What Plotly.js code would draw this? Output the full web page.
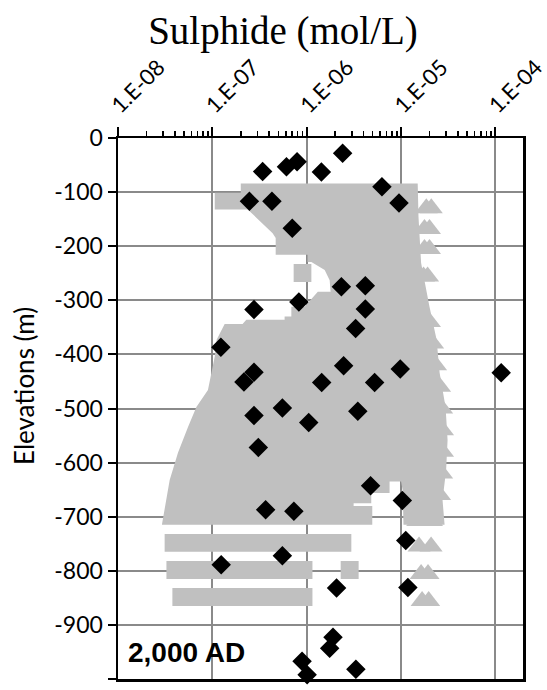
<!DOCTYPE html>
<html>
<head>
<meta charset="utf-8">
<script src="https://cdn.plot.ly/plotly-3.0.1.min.js"></script>
<style>html,body{margin:0;padding:0;background:#fff;}#chart{width:547px;height:690px;}</style>
</head>
<body>
<div id="chart"></div>
<script>
// ---------- data ----------
// measured sulphide (black diamonds)
const measConc = [2.40e-6, 7.9e-7, 6.1e-7, 3.41e-7, 1.43e-6, 6.27e-6, 9.5e-6, 2.47e-7, 4.28e-7, 7.03e-7,
  2.33e-6, 4.18e-6, 4.18e-6, 3.30e-6, 8.26e-7, 2.76e-7, 1.23e-7, 2.76e-7, 2.16e-7, 2.46e-6,
  1.44e-6, 5.24e-6, 9.8e-6, 1.15e-4, 3.48e-6, 1.05e-6, 2.76e-7, 5.52e-7, 3.07e-7, 4.75e-6,
  1.03e-5, 3.67e-7, 7.31e-7, 1.12e-5, 5.52e-7, 1.24e-7, 2.07e-6, 1.18e-5, 1.90e-6, 1.75e-6,
  8.93e-7, 1.01e-6, 3.32e-6];
const measElev = [-28, -44, -53, -62, -63, -90, -120, -117, -117, -167,
  -275, -273, -316, -352, -303, -317, -387, -433, -451, -421,
  -452, -452, -427, -434, -505, -526, -513, -499, -572, -643,
  -670, -687, -690, -744, -772, -789, -832, -831, -923, -943,
  -967, -992, -982];

// model envelope (grey area outline)
const bodyConc = [2.00e-7, 1.50e-5, 1.53e-5, 1.63e-5, 2.00e-5, 2.38e-5, 2.56e-5, 2.96e-5, 3.11e-5, 3.00e-5,
  2.75e-5, 2.89e-5, 1.06e-5, 1.04e-5, 1.00e-5, 7.55e-6, 7.55e-6, 4.83e-6, 4.83e-6, 3.14e-6,
  3.14e-6, 4.95e-6, 4.95e-6, 2.92e-8, 3.53e-8, 4.32e-8, 5.52e-8, 6.77e-8, 8.98e-8, 9.76e-8,
  1.06e-7, 1.11e-7, 1.35e-7, 2.09e-7, 2.29e-7, 5.83e-7, 5.83e-7, 6.87e-7, 6.87e-7, 9.50e-7,
  1.31e-6, 1.79e-6, 1.75e-6, 1.55e-6, 1.12e-6, 1.02e-6, 1.02e-6, 4.69e-7, 4.69e-7, 4.35e-7,
  2.37e-7, 1.06e-7, 1.06e-7, 2.00e-7, 2.00e-7];
const bodyElev = [-84, -84, -146, -231, -312, -373, -434, -497, -558, -614,
  -669, -715, -715, -651, -635, -635, -656, -656, -675, -675,
  -680, -680, -715, -715, -632, -582, -534, -497, -466, -435,
  -404, -373, -344, -344, -336, -336, -330, -330, -312, -312,
  -284, -284, -263, -244, -229, -229, -216, -216, -185, -176,
  -132, -132, -101, -101, -84];

// model rows drawn as blocks
const rowConcLow  = [7.27e-7, 3.12e-8, 3.26e-8, 2.29e-6, 3.77e-8];
const rowConcHigh = [1.12e-6, 2.97e-6, 1.15e-6, 3.55e-6, 1.15e-6];
const rowElevTop  = [-233, -732, -782, -782, -832];
const rowElevBot  = [-266, -765, -815, -815, -865];

// second model series (grey triangles)
const triConc = [1.85e-5, 2.09e-5, 1.77e-5, 2.00e-5, 1.77e-5, 2.00e-5, 1.73e-5, 1.91e-5,
  2.00e-5, 2.16e-5, 2.32e-5, 2.56e-5, 2.69e-5, 2.75e-5, 2.75e-5, 2.69e-5, 2.56e-5,
  1.50e-5, 2.10e-5, 1.55e-5, 2.08e-5, 1.63e-5, 1.93e-5, 1.67e-5, 1.96e-5];
const triElev = [-130, -130, -168, -168, -205, -205, -256, -256,
  -340, -380, -420, -460, -500, -540, -580, -620, -660,
  -708, -708, -755, -755, -806, -806, -856, -856];

// axis ticks
const xTickVals = [1e-8, 1e-7, 1e-6, 1e-5, 1e-4];
const xTickText = ['1.E-08', '1.E-07', '1.E-06', '1.E-05', '1.E-04'];
const yTickVals = [0, -100, -200, -300, -400, -500, -600, -700, -800, -900, -1000];
const yTickText = yTickVals.map(v => String(v));

// ---------- build ----------
const minorVals = [];
for (let e = -8; e <= -5; e++) for (let m = 2; m <= 9; m++) minorVals.push(m * Math.pow(10, e));

const rx = [], ry = [];
for (let i = 0; i < rowConcLow.length; i++) {
  rx.push(rowConcLow[i], rowConcHigh[i], rowConcHigh[i], rowConcLow[i], rowConcLow[i], null);
  ry.push(rowElevTop[i], rowElevTop[i], rowElevBot[i], rowElevBot[i], rowElevTop[i], null);
}

const grey = '#C0C0C0';
const traces = [
  {x: bodyConc, y: bodyElev, type: 'scatter', mode: 'lines', fill: 'toself',
   fillcolor: grey, line: {width: 0, color: grey}, hoverinfo: 'skip'},
  {x: rx, y: ry, type: 'scatter', mode: 'lines', fill: 'toself',
   fillcolor: grey, line: {width: 0, color: grey}, hoverinfo: 'skip'},
  {x: triConc, y: triElev, type: 'scatter', mode: 'markers',
   marker: {symbol: 'triangle-up', size: 20, color: grey, line: {width: 0}}},
  {x: measConc, y: measElev, type: 'scatter', mode: 'markers', cliponaxis: false,
   marker: {symbol: 'diamond', size: 15, color: '#000000', line: {width: 0}}}
];

const fam = 'Lato, "Open Sans", sans-serif';
const layout = {
  width: 547, height: 690,
  margin: {l: 118, r: 24, t: 138, b: 11},
  paper_bgcolor: '#fff', plot_bgcolor: '#fff',
  showlegend: false,
  title: {text: 'Sulphide (mol/L)',
          font: {family: '"Liberation Serif", "Times New Roman", serif', size: 39, color: '#000'},
          xref: 'container', x: 283 / 547, xanchor: 'center',
          yref: 'container', y: 1 - 30 / 690, yanchor: 'middle'},
  xaxis: {type: 'log', side: 'top', range: [-8, -3.708],
          tickvals: xTickVals, ticktext: xTickText, tickangle: -45,
          ticklabeloverflow: 'allow', ticklabelshift: -5,
          ticks: 'outside', ticklen: 9, tickwidth: 2, tickcolor: '#000',
          showline: true, linecolor: '#000', linewidth: 2.5, mirror: true,
          showgrid: true, gridcolor: '#8a8a8a', gridwidth: 2, zeroline: false,
          tickfont: {family: fam, size: 22, color: '#000'},
          minor: {tickvals: minorVals, ticks: 'outside', ticklen: 5, tickwidth: 1.5,
                  tickcolor: '#000', showgrid: false}},
  yaxis: {range: [-1000, 0], tickvals: yTickVals, ticktext: yTickText,
          ticks: 'outside', ticklen: 8, tickwidth: 2, tickcolor: '#000',
          showline: true, linecolor: '#000', linewidth: 2.5, mirror: true,
          showgrid: true, gridcolor: '#8a8a8a', gridwidth: 2, zeroline: false,
          tickfont: {family: fam, size: 23, color: '#000'}, ticklabelstandoff: 0},
  annotations: [
    {text: 'Elevations (m)', textangle: -90, showarrow: false,
     xref: 'paper', yref: 'paper', x: (24 - 118) / 405, y: (679 - 386) / 541,
     xanchor: 'center', yanchor: 'middle',
     font: {family: fam, size: 26, color: '#000'}},
    {text: '<b>2,000 AD</b>', showarrow: false,
     xref: 'paper', yref: 'paper', x: (126 - 118) / 405, y: (679 - 652) / 541,
     xanchor: 'left', yanchor: 'middle',
     font: {family: '"Liberation Sans", Arial, sans-serif', size: 28, color: '#000'}}
  ]
};

Plotly.newPlot('chart', traces, layout, {staticPlot: true, displayModeBar: false});
</script>
</body>
</html>
